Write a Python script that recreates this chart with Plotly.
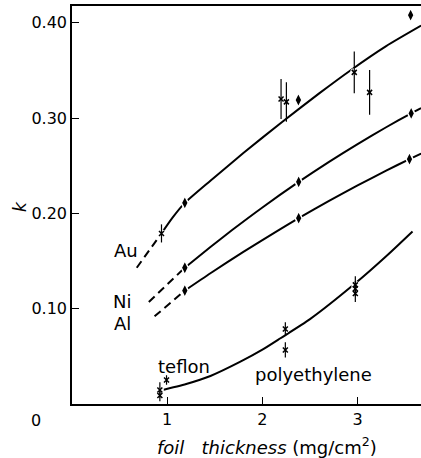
import plotly.graph_objects as go

# ---------------- data ----------------
# fitted curves (dashed extrapolation + solid part)
au_dash_x = [0.68, 0.81, 0.94]
au_dash_k = [0.143, 0.161, 0.179]
au_x = [0.94, 1.06, 1.185, 1.454, 1.8, 2.207, 2.6, 2.924, 3.3, 3.667]
au_k = [0.179, 0.196, 0.211, 0.2343, 0.2633, 0.296, 0.3262, 0.350, 0.3755, 0.397]

ni_dash_x = [0.807, 1.0, 1.185]
ni_dash_k = [0.107, 0.125, 0.143]
ni_x = [1.185, 1.454, 1.682, 2.0, 2.381, 2.7, 3.0, 3.3, 3.563, 3.667]
ni_k = [0.143, 0.1647, 0.1825, 0.2062, 0.233, 0.2541, 0.2728, 0.2904, 0.305, 0.3105]

al_dash_x = [0.867, 1.03, 1.185]
al_dash_k = [0.092, 0.106, 0.119]
al_x = [1.185, 1.454, 1.8, 2.154, 2.381, 2.7, 3.0, 3.3, 3.545, 3.667]
al_k = [0.119, 0.1372, 0.1596, 0.1815, 0.195, 0.2132, 0.2294, 0.2449, 0.257, 0.2628]

poly_x = [0.92, 1.2, 1.454, 1.769, 2.0, 2.19, 2.5, 2.976, 3.3, 3.577]
poly_k = [0.014, 0.021, 0.0294, 0.0444, 0.057, 0.069, 0.089, 0.1266, 0.155, 0.181]

# measured points: diamonds (no error bars)
dia_x = [1.185, 2.378, 3.557, 1.185, 2.381, 3.563, 1.185, 2.381, 3.545]
dia_k = [0.211, 0.319, 0.408, 0.143, 0.233, 0.305, 0.119, 0.195, 0.257]

# measured points: crosses with error bars
cross_x = [0.94, 2.196, 2.252, 2.965, 3.126,
           2.241, 2.241, 2.976, 2.976, 2.976,
           0.993, 0.923, 0.923]
cross_k = [0.179, 0.320, 0.317, 0.348, 0.327,
           0.0787, 0.0567, 0.125, 0.121, 0.116,
           0.0252, 0.0147, 0.009]
cross_err = [0.0095, 0.021, 0.0207, 0.022, 0.0235,
             0.007, 0.008, 0.009, 0.008, 0.009,
             0.005, 0.008, 0.006]

ytick_vals = [0.1, 0.2, 0.3, 0.4]
ytick_text = ["0.10", "0.20", "0.30", "0.40"]
xtick_vals = [1, 2, 3]
xtick_text = ["1", "2", "3"]

curve_labels = ["Au", "Ni", "Al", "teflon", "polyethylene"]

# ---------------- figure ----------------
W, H = 421, 458
ML, MR, MT, MB = 72, 0, 6, 54
PW, PH = W - ML - MR, H - MT - MB
FONT = "DejaVu Sans"


def px(xp, yp):
    return (xp - ML) / PW, (H - MB - yp) / PH


fig = go.Figure()
LW = 2
for xs, ks in [(au_dash_x, au_dash_k), (ni_dash_x, ni_dash_k), (al_dash_x, al_dash_k)]:
    fig.add_trace(go.Scatter(x=xs, y=ks, mode="lines",
                             line=dict(color="black", width=LW, dash="8px,5px"),
                             hoverinfo="skip"))
for xs, ks in [(au_x, au_k), (ni_x, ni_k), (al_x, al_k), (poly_x, poly_k)]:
    fig.add_trace(go.Scatter(x=xs, y=ks, mode="lines",
                             line=dict(color="black", width=LW, shape="spline", smoothing=0.6),
                             hoverinfo="skip"))

# white halos to break curves at crosses
fig.add_trace(go.Scatter(x=cross_x, y=cross_k, mode="markers",
                         marker=dict(symbol="circle", size=8, color="white", line=dict(width=0)),
                         hoverinfo="skip"))
# crosses with error bars
fig.add_trace(go.Scatter(x=cross_x, y=cross_k, mode="markers",
                         marker=dict(symbol="x-thin", size=5, color="black",
                                     line=dict(color="black", width=1.5)),
                         error_y=dict(type="data", array=cross_err, visible=True,
                                      color="black", thickness=1.2, width=0)))
# diamonds
fig.add_trace(go.Scatter(x=dia_x, y=dia_k, mode="markers",
                         marker=dict(symbol="diamond-tall", size=10, color="black",
                                     line=dict(color="white", width=1.5))))

ann = []
label_pos = [(126, 250), (121.5, 301.5), (122, 323), (183.5, 366), (313.3, 374)]
for text, (xp, yp) in zip(curve_labels, label_pos):
    xx, yy = px(xp, yp)
    ann.append(dict(x=xx, y=yy, xref="paper", yref="paper", text=text, showarrow=False,
                    font=dict(size=18, color="black", family=FONT),
                    xanchor="center", yanchor="middle"))
xx, yy = px(36, 421)
ann.append(dict(x=xx, y=yy, xref="paper", yref="paper", text="0", showarrow=False,
                font=dict(size=16, color="black", family=FONT), xanchor="center", yanchor="middle"))
xx, yy = px(20, 207)
ann.append(dict(x=xx, y=yy, xref="paper", yref="paper", text="<i>k</i>", showarrow=False,
                textangle=-90, font=dict(size=17, color="black", family=FONT),
                xanchor="center", yanchor="middle"))
xx, yy = px(267, 446)
ann.append(dict(x=xx, y=yy, xref="paper", yref="paper",
                text="<i>foil&nbsp;&nbsp;&nbsp;thickness</i>&nbsp;(mg/cm<sup>2</sup>)", showarrow=False,
                font=dict(size=18, color="black", family=FONT), xanchor="center", yanchor="middle"))

fig.update_layout(
    width=W, height=H, autosize=False,
    margin=dict(l=ML, r=MR, t=MT, b=MB, pad=0),
    paper_bgcolor="white", plot_bgcolor="white",
    showlegend=False,
    font=dict(family=FONT, color="black", size=16),
    annotations=ann,
    xaxis=dict(range=[0, PW / 95.2], showgrid=False, zeroline=False,
               showline=True, linecolor="black", linewidth=1.5, mirror=True,
               ticks="inside", ticklen=7, tickwidth=1.2, tickcolor="black",
               tickvals=xtick_vals, ticktext=xtick_text,
               tickfont=dict(size=16, family=FONT, color="black")),
    yaxis=dict(range=[0, PH / 953.0], showgrid=False, zeroline=False,
               showline=True, linecolor="black", linewidth=1.5,
               ticks="inside", ticklen=7, tickwidth=1.2, tickcolor="black",
               tickvals=ytick_vals, ticktext=ytick_text,
               tickfont=dict(size=16, family=FONT, color="black")),
)

fig.write_html("out.html")
